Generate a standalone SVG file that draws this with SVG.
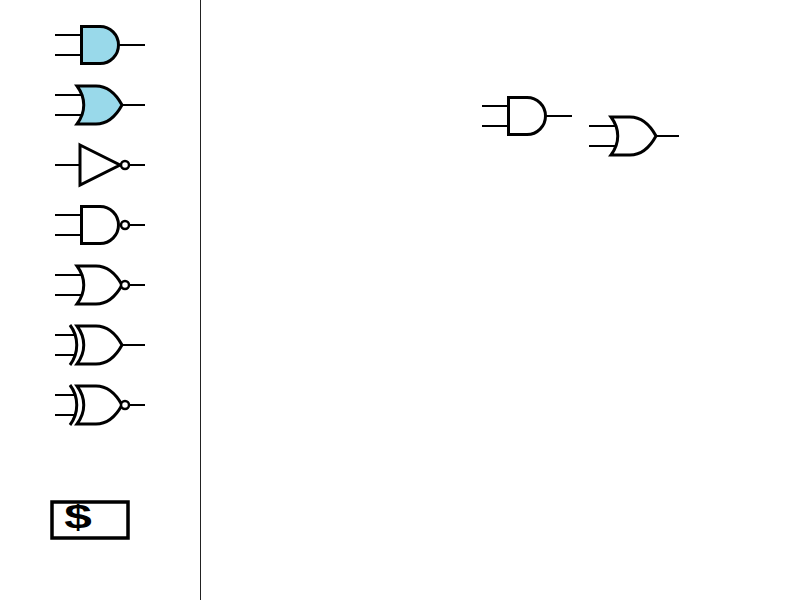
<svg xmlns="http://www.w3.org/2000/svg" width="800" height="600" viewBox="0 0 800 600">
<style>
.w{fill:none;stroke:#000;stroke-width:2}
.b{fill:none;stroke:#000;stroke-width:3;stroke-linejoin:miter}
.c{fill:none;stroke:#000;stroke-width:3}
.blue{fill:#99d9ea}
.bub{fill:#fff;stroke:#000;stroke-width:2.500}
</style>
<defs>
<path id="andBody" d="M81.500 26.500H100A18.500 18.500 0 0 1 100 63.500H81.500Z"/>
<path id="orBody" d="M77 86H96C107 86 116 94 122 105C116 116 107 124 96 124H77C86 112 86 98 77 86Z"/>
</defs>
<rect width="800" height="600" fill="#fff"/>
<g id="connectors">
<path class="w" d="M55 35H81M55 55H81M119 45H145"/>
<path class="w" d="M55 95H82M55 115H82M122 105H145"/>
<path class="w" d="M55 165H80M129 165H145"/>
<path class="w" d="M55 215H81M55 235H81M129 225H145"/>
<path class="w" d="M55 275H82M55 295H82M129 285H145"/>
<path class="w" d="M55 335H76M55 355H76M122 345H145"/>
<path class="w" d="M55 395H76M55 415H76M129 405H145"/>
<path class="w" d="M482 106H508M482 126H508M546 116H572"/>
<path class="w" d="M589 126H616M589 146H616M656 136H679"/>
</g>
<g id="divider"><path d="M200.500 0V600" fill="none" stroke="#222" stroke-width="1"/></g>
<g id="and-blue"><use href="#andBody" class="b blue"/></g>
<g id="or-blue"><use href="#orBody" class="b blue"/></g>
<g id="not"><path class="b" d="M80 145L120 165L80 185Z"/><circle class="bub" cx="125" cy="165" r="4"/></g>
<g id="nand"><use href="#andBody" y="180" class="b"/><circle class="bub" cx="125" cy="225" r="4"/></g>
<g id="nor"><use href="#orBody" y="180" class="b"/><circle class="bub" cx="125" cy="285" r="4"/></g>
<g id="xor"><use href="#orBody" y="240" class="b"/><path class="c" d="M70 325C79 337 79 353 70 365"/></g>
<g id="xnor"><use href="#orBody" y="300" class="b"/><path class="c" d="M70 385C79 397 79 413 70 425"/><circle class="bub" cx="125" cy="405" r="4"/></g>
<g id="toggle"><rect x="52" y="502" width="76" height="36" fill="#fff" stroke="#000" stroke-width="3.500"/><text transform="translate(78 528) scale(1.500 1)" font-family="'Liberation Sans',sans-serif" font-weight="700" font-size="33" text-anchor="middle" fill="#000">$</text></g>
<g id="and-canvas"><use href="#andBody" x="427" y="71" class="b"/></g>
<g id="or-canvas"><use href="#orBody" x="534" y="31" class="b"/></g>
</svg>
